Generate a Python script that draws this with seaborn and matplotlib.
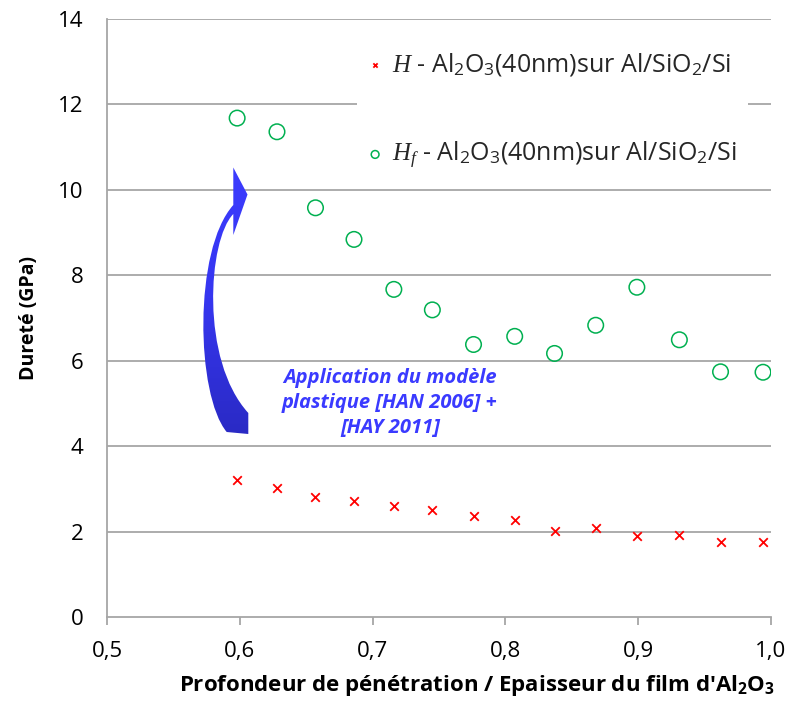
import numpy as np
import pandas as pd
import matplotlib
matplotlib.use("Agg")
import matplotlib.pyplot as plt
import seaborn as sns
from matplotlib.path import Path
from matplotlib.patches import PathPatch

# ---- data ----
ratio = [0.598, 0.628, 0.657, 0.686, 0.716, 0.745, 0.776, 0.807, 0.837, 0.868, 0.899, 0.931, 0.962, 0.994]
H = [3.21, 3.02, 2.81, 2.72, 2.60, 2.50, 2.37, 2.26, 2.01, 2.08, 1.89, 1.91, 1.75, 1.76]
Hf = [11.68, 11.36, 9.58, 8.84, 7.67, 7.19, 6.38, 6.57, 6.17, 6.83, 7.72, 6.49, 5.74, 5.73]
xticks = [0.5, 0.6, 0.7, 0.8, 0.9, 1.0]
xticklabels = ["0,5", "0,6", "0,7", "0,8", "0,9", "1,0"]
yticks = [0, 2, 4, 6, 8, 10, 12, 14]
label_H = r"$H$ - Al$_2$O$_3$(40nm)sur Al/SiO$_2$/Si"
label_Hf = r"$H_f$ - Al$_2$O$_3$(40nm)sur Al/SiO$_2$/Si"
note = "Application du modèle\nplastique [HAN 2006] +\n[HAY 2011]"

df = pd.DataFrame({"ratio": ratio, "H": H, "Hf": Hf})

sns.set_theme(style="white")
FONT = "Open Sans"
plt.rcParams["font.family"] = [FONT, "DejaVu Sans"]
plt.rcParams["mathtext.fontset"] = "custom"
plt.rcParams["mathtext.rm"] = FONT
plt.rcParams["mathtext.it"] = "Liberation Serif:italic"
plt.rcParams["mathtext.bf"] = FONT + ":bold"

W, Hgt = 790, 713
fig = plt.figure(figsize=(W / 100, Hgt / 100), dpi=100)
ax = fig.add_axes([107 / W, 1 - 617 / Hgt, (771 - 107) / W, (617 - 19) / Hgt])

grid_c = "#a6a6a6"
ax.set_xlim(0.5, 1.0)
ax.set_ylim(0, 14)
ax.set_yticks(yticks)
ax.set_xticks(xticks)
ax.set_xticklabels(xticklabels)
for y in yticks[1:]:
    ax.axhline(y, color=grid_c, lw=1.3, zorder=0)

sns.scatterplot(data=df, x="ratio", y="Hf", marker="o", s=125, facecolor="none",
                edgecolor="#00b050", linewidth=1.1, ax=ax, label=label_Hf, zorder=3)
sns.scatterplot(data=df, x="ratio", y="H", marker="x", s=38, color="#ff0000",
                linewidth=1.3, ax=ax, label=label_H, zorder=3)

for s in ["top", "right"]:
    ax.spines[s].set_visible(False)
for s in ["left", "bottom"]:
    ax.spines[s].set_color(grid_c)
    ax.spines[s].set_linewidth(1.3)

ax.tick_params(axis="x", direction="out", length=6, width=1.3, color=grid_c,
               pad=11, labelsize=16, labelcolor="#000000")
ax.tick_params(axis="y", length=0, pad=17, labelsize=16, labelcolor="#000000")
ax.xaxis.set_ticks_position("bottom")

ax.set_ylabel("Dureté (GPa)", fontsize=14, fontweight="bold", color="black")
ax.yaxis.set_label_coords(-0.103, 0.5)
ax.set_xlabel(r"Profondeur de pénétration / Epaisseur du film d'Al$_\mathbf{2}$O$_\mathbf{3}$",
              fontsize=16, fontweight="bold", color="black")
ax.xaxis.set_label_coords(0.557, -0.093)

handles, labels = ax.get_legend_handles_labels()
order = [labels.index(label_H), labels.index(label_Hf)]
leg = ax.legend([handles[i] for i in order], [labels[i] for i in order],
                loc="upper left", bbox_to_anchor=((357 - 107) / 664, (617 - 40) / 598),
                fontsize=18, frameon=True, framealpha=1, facecolor="white", edgecolor="none",
                fancybox=False, markerscale=0.5, handlelength=0.55, handletextpad=0.4,
                labelspacing=2.45, borderaxespad=0, borderpad=0.45)
leg.set_zorder(5)

# ---- curved arrow annotation in pixel space overlay ----
ov = fig.add_axes([0, 0, 1, 1], facecolor="none")
ov.set_xlim(0, W)
ov.set_ylim(Hgt, 0)
ov.axis("off")
verts = [
    (226.7, 432), (196, 395), (193, 250), (233.3, 205),
    (233.3, 167.5),
    (247.5, 194.5),
    (233.3, 235),
    (233.3, 214),
    (208, 240), (200, 360), (248.3, 413),
    (248.3, 434),
    (226.7, 432),
]
codes = [Path.MOVETO, Path.CURVE4, Path.CURVE4, Path.CURVE4,
         Path.LINETO, Path.LINETO, Path.LINETO, Path.LINETO,
         Path.CURVE4, Path.CURVE4, Path.CURVE4,
         Path.LINETO, Path.CLOSEPOLY]
patch = PathPatch(Path(verts, codes), facecolor="none", edgecolor="none")
ov.add_patch(patch)
grad = np.linspace(0, 1, 256).reshape(-1, 1)
cmap = matplotlib.colors.LinearSegmentedColormap.from_list("bl", ["#3c3cff", "#3636f0", "#2a2ac4"])
im = ov.imshow(grad, cmap=cmap, extent=(185, 252, 436, 160), aspect="auto",
               interpolation="bilinear", zorder=4)
im.set_clip_path(patch)
ov.set_xlim(0, W)
ov.set_ylim(Hgt, 0)

ov.text(390, 403, note, ha="center", va="center", fontsize=14.5, fontweight="bold",
        fontstyle="italic", color="#3a3aff", linespacing=1.32)

fig.savefig("out.png", dpi=100)
